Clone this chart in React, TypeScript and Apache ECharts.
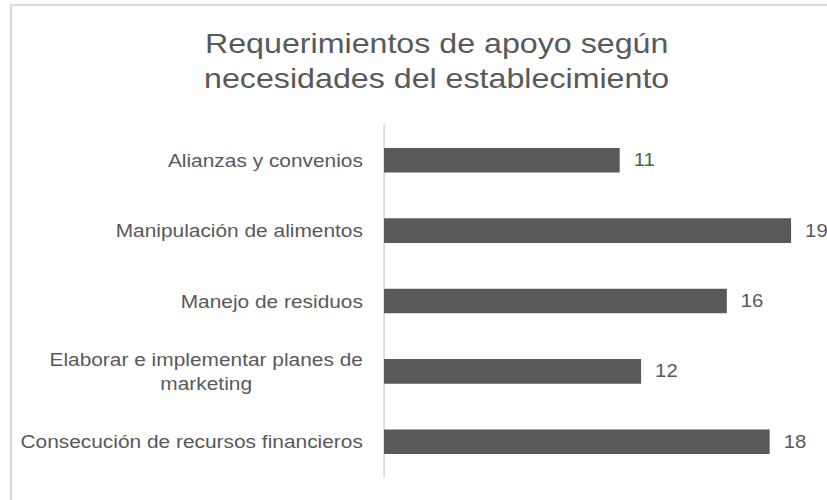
import React, { useEffect, useRef } from "react";
import * as echarts from "echarts";

const titleLines = ["Requerimientos de apoyo según", "necesidades del establecimiento"];
const categories = [
  "Alianzas y convenios",
  "Manipulación de alimentos",
  "Manejo de residuos",
  "Elaborar e implementar planes de\nmarketing",
  "Consecución de recursos financieros",
];
const values = [11, 19, 16, 12, 18];
const axisMax = 20;

const FONT = "'Liberation Sans', Arial, sans-serif";
const GREY = "#595959";
// The reference picture is stretched horizontally; draw on a narrower canvas and stretch it.
const PAGE_W = 827;
const INNER_W = 732;
const SX = PAGE_W / INNER_W;
const sx = (v: number) => v / SX;

export default function App() {
  const ref = useRef<HTMLDivElement>(null);
  useEffect(() => {
    if (!ref.current) return;
    const chart = echarts.init(ref.current, null, { renderer: "svg" });
    chart.setOption({
      animation: false,
      backgroundColor: "#ffffff",
      textStyle: { fontFamily: FONT },
      title: {
        text: titleLines.join("\n"),
        left: sx(431),
        top: 20,
        textAlign: "center",
        textStyle: {
          fontFamily: FONT,
          fontSize: 28.5,
          fontWeight: "normal",
          color: GREY,
          lineHeight: 35,
        },
      },
      graphic: [
        {
          type: "rect",
          shape: { x: sx(11), y: 5, width: 900, height: 600 },
          style: { fill: "none", stroke: "#d9d9d9", lineWidth: 2 },
          silent: true,
        },
      ],
      grid: { left: sx(384), right: INNER_W - sx(812.5), top: 125, bottom: 23, containLabel: false },
      xAxis: {
        type: "value",
        min: 0,
        max: axisMax,
        show: false,
        splitLine: { show: false },
      },
      yAxis: {
        type: "category",
        data: categories,
        inverse: true,
        axisLine: { show: true, lineStyle: { color: "#d9d9d9", width: 1.5 } },
        axisTick: { show: false },
        axisLabel: {
          margin: sx(21),
          fontFamily: FONT,
          fontSize: 18.5,
          color: GREY,
          lineHeight: 24,
          align: "right",
          formatter: (v: string) =>
            v
              .split("\n")
              .map((s) => "{c|" + s + "}")
              .join("\n"),
          rich: {
            c: { align: "center", fontFamily: FONT, fontSize: 18.5, color: GREY, lineHeight: 24 },
          },
        },
      },
      series: [
        {
          type: "bar",
          data: values,
          barWidth: "35%",
          itemStyle: { color: GREY },
          label: {
            show: true,
            position: "right",
            distance: sx(14),
            fontFamily: FONT,
            fontSize: 18,
            color: GREY,
          },
        },
      ],
    });
    return () => chart.dispose();
  }, []);
  return (
    <div
      ref={ref}
      style={{
        position: "fixed",
        left: 0,
        top: 0,
        width: INNER_W,
        height: 500,
        transform: `scaleX(${SX})`,
        transformOrigin: "0 0",
      }}
    />
  );
}
